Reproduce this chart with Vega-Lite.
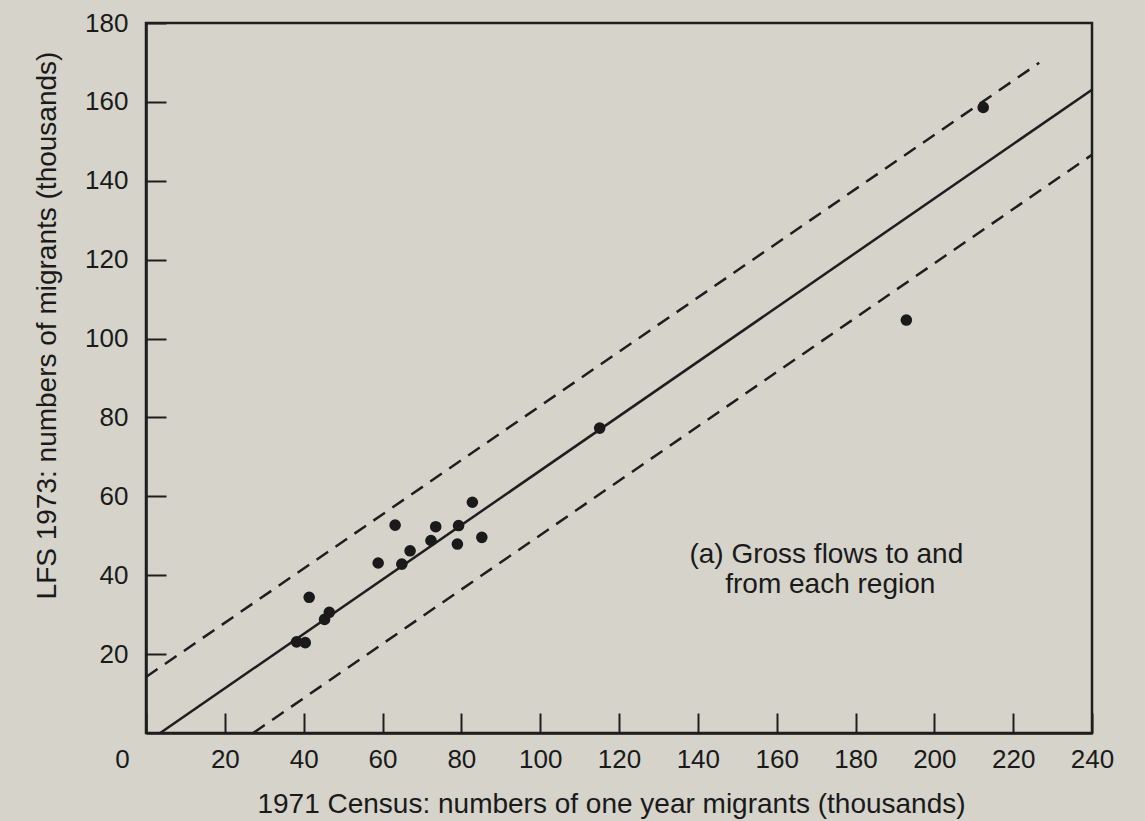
{
  "$schema": "https://vega.github.io/schema/vega-lite/v6.json",
  "width": 946,
  "height": 710,
  "autosize": {"type": "none"},
  "padding": {"left": 146, "top": 23, "right": 53, "bottom": 88},
  "background": "#d5d3ca",
  "config": {
    "view": {"stroke": "#1e1e1e", "strokeWidth": 2.5},
    "font": "Liberation Sans",
    "axis": {
      "domainColor": "#1e1e1e",
      "domainWidth": 2.5,
      "tickColor": "#1e1e1e",
      "tickWidth": 2,
      "tickSize": -20,
      "labelColor": "#1a1a1a",
      "titleColor": "#1a1a1a",
      "labelFontSize": 26,
      "labelFlush": false,
      "titleFontSize": 28,
      "titleFontWeight": "normal",
      "grid": false
    }
  },
  "datasets": {
    "points": [
      {"census": 212.4, "lfs": 158.6},
      {"census": 192.9, "lfs": 104.7},
      {"census": 115.1, "lfs": 77.3},
      {"census": 82.8, "lfs": 58.5},
      {"census": 63.2, "lfs": 52.7},
      {"census": 73.5, "lfs": 52.3},
      {"census": 79.3, "lfs": 52.6},
      {"census": 72.3, "lfs": 48.8},
      {"census": 79.0, "lfs": 47.9},
      {"census": 85.2, "lfs": 49.6},
      {"census": 67.0, "lfs": 46.2},
      {"census": 64.9, "lfs": 42.8},
      {"census": 58.9, "lfs": 43.1},
      {"census": 41.4, "lfs": 34.4},
      {"census": 46.5, "lfs": 30.6},
      {"census": 45.3, "lfs": 28.8},
      {"census": 38.2, "lfs": 23.1},
      {"census": 40.4, "lfs": 22.9}
    ],
    "lines": [
      {"line": "fit", "style": "solid", "census": 3.6, "lfs": 0},
      {"line": "fit", "style": "solid", "census": 240, "lfs": 163.1},
      {"line": "upper", "style": "dashed", "census": 0, "lfs": 14.2},
      {"line": "upper", "style": "dashed", "census": 226.6, "lfs": 169.9},
      {"line": "lower", "style": "dashed", "census": 27.2, "lfs": 0},
      {"line": "lower", "style": "dashed", "census": 240, "lfs": 146.6}
    ],
    "notes": [
      {"census": 172.6, "lfs": 43.1, "text": "(a) Gross flows to and"},
      {"census": 173.6, "lfs": 35.5, "text": "from each region"}
    ]
  },
  "layer": [
    {
      "data": {"name": "lines"},
      "transform": [{"filter": "datum.style == 'solid'"}],
      "mark": {"type": "line", "color": "#1e1e1e", "strokeWidth": 2.5},
      "encoding": {
        "x": {
          "field": "census", "type": "quantitative",
          "scale": {"domain": [0, 240], "nice": false},
          "axis": {
            "values": [0, 20, 40, 60, 80, 100, 120, 140, 160, 180, 200, 220, 240],
            "labelPadding": 33,
            "labelOffset": {"condition": {"test": "datum.value == 0", "value": -24}, "value": 0},
            "title": "1971 Census: numbers of one year migrants  (thousands)",
            "titleX": 465,
            "titleY": 79,
            "titleAlign": "center",
            "titleBaseline": "alphabetic"
          }
        },
        "y": {
          "field": "lfs", "type": "quantitative",
          "scale": {"domain": [0, 180], "nice": false},
          "axis": {
            "values": [20, 40, 60, 80, 100, 120, 140, 160, 180],
            "labelPadding": 38,
            "title": "LFS 1973: numbers of migrants  (thousands)",
            "titleX": -91,
            "titleY": 302,
            "titleAngle": -90,
            "titleAlign": "center",
            "titleBaseline": "alphabetic"
          }
        },
        "detail": {"field": "line"}
      }
    },
    {
      "data": {"name": "lines"},
      "transform": [{"filter": "datum.style == 'dashed'"}],
      "mark": {"type": "line", "color": "#1e1e1e", "strokeWidth": 2.5, "strokeDash": [14, 9]},
      "encoding": {
        "x": {"field": "census", "type": "quantitative"},
        "y": {"field": "lfs", "type": "quantitative"},
        "detail": {"field": "line"}
      }
    },
    {
      "data": {"name": "points"},
      "mark": {"type": "circle", "color": "#1a1a1a", "opacity": 1, "size": 135},
      "encoding": {
        "x": {"field": "census", "type": "quantitative"},
        "y": {"field": "lfs", "type": "quantitative"}
      }
    },
    {
      "data": {"name": "notes"},
      "mark": {"type": "text", "fontSize": 28, "color": "#1a1a1a", "align": "center", "baseline": "alphabetic"},
      "encoding": {
        "x": {"field": "census", "type": "quantitative"},
        "y": {"field": "lfs", "type": "quantitative"},
        "text": {"field": "text"}
      }
    }
  ]
}
